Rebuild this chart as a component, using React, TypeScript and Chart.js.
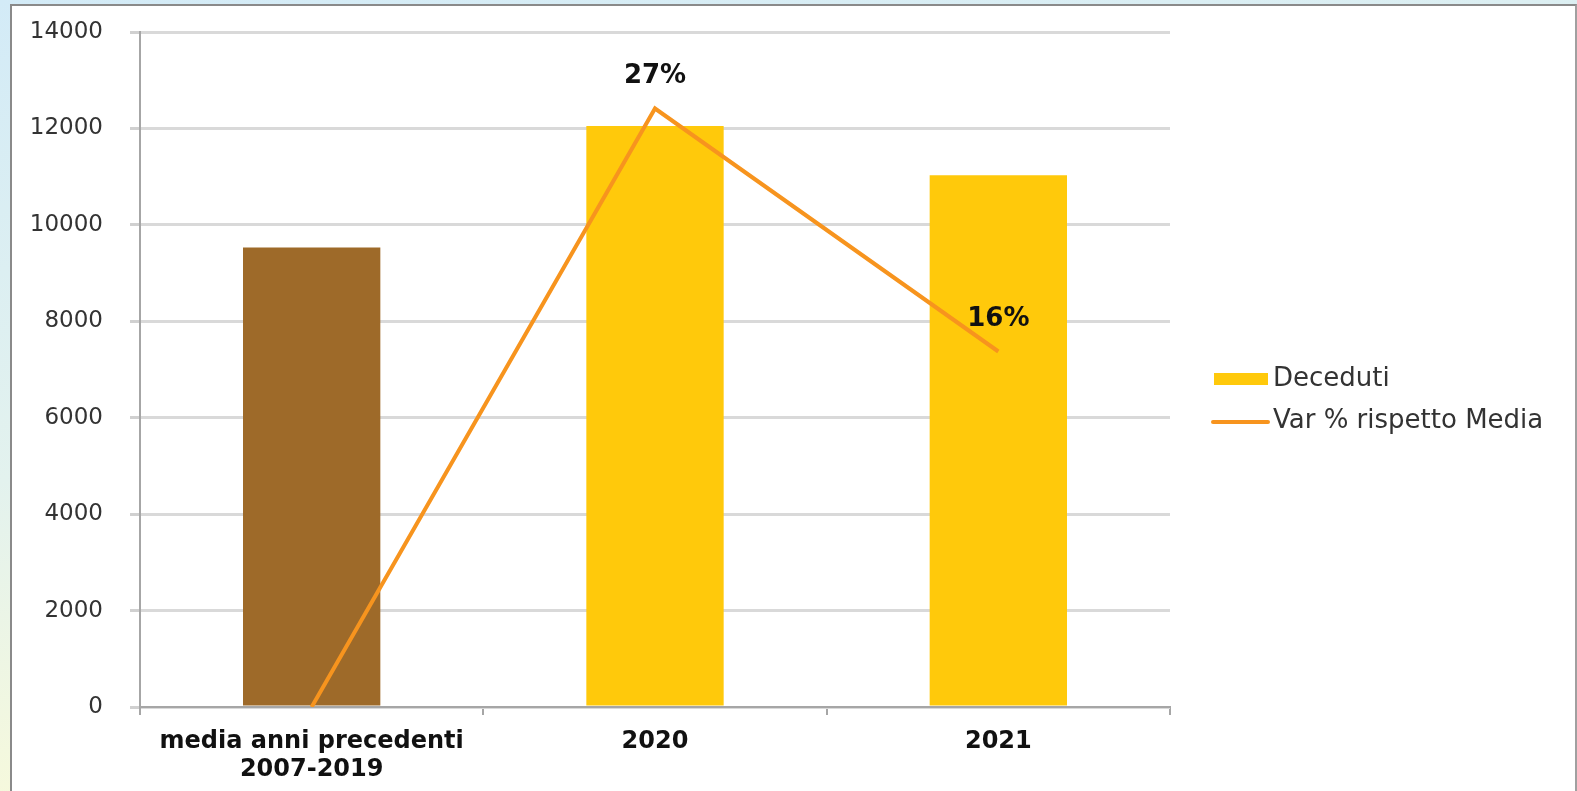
import React, { useEffect, useRef } from "react";
import { Chart, registerables } from "chart.js";

Chart.register(...registerables);

const categories: (string | string[])[] = [
  ["media anni precedenti", "2007-2019"],
  "2020",
  "2021",
];
const deceduti = [9530, 12050, 11030];
const barColors = ["#9E6A29", "#FFC90B", "#FFC90B"];
const varPct = [0, 26.6, 15.8];
const yTicks = [0, 2000, 4000, 6000, 8000, 10000, 12000, 14000];

const W = 1577;
const H = 791;

const labelsPlugin = {
  id: "pctLabels",
  afterDatasetsDraw(chart: any) {
    const meta = chart.getDatasetMeta(1);
    const ctx = chart.ctx;
    ctx.save();
    ctx.font = "bold 26px 'DejaVu Sans'";
    ctx.fillStyle = "#111";
    ctx.textAlign = "center";
    ctx.textBaseline = "middle";
    meta.data.forEach((pt: any, i: number) => {
      const v = varPct[i];
      if (!v) return;
      ctx.fillText(Math.round(v) + "%", pt.x, pt.y - 32);
    });
    ctx.restore();
  },
};

const legendPlugin = {
  id: "customLegend",
  afterDraw(chart: any) {
    const ctx = chart.ctx;
    const ds = chart.data.datasets;
    ctx.save();
    ctx.font = "26px 'DejaVu Sans'";
    ctx.textBaseline = "middle";
    ctx.textAlign = "left";
    ctx.fillStyle = "#FFC90B";
    ctx.fillRect(1214, 373, 54, 12);
    ctx.fillStyle = "#333";
    ctx.fillText(ds[0].label, 1273, 379);
    ctx.strokeStyle = ds[1].borderColor;
    ctx.lineWidth = 4;
    ctx.lineCap = "round";
    ctx.beginPath();
    ctx.moveTo(1213, 422);
    ctx.lineTo(1268, 422);
    ctx.stroke();
    ctx.fillText(ds[1].label, 1273, 421);
    ctx.restore();
  },
};

export default function App() {
  const ref = useRef<HTMLCanvasElement>(null);
  useEffect(() => {
    if (!ref.current) return;
    const chart = new Chart(ref.current, {
      type: "bar",
      data: {
        labels: categories,
        datasets: [
          {
            type: "bar",
            label: "Deceduti",
            data: deceduti,
            backgroundColor: barColors,
            barPercentage: 0.4,
            categoryPercentage: 1,
            yAxisID: "y",
            order: 2,
          },
          {
            type: "line",
            label: "Var % rispetto Media",
            data: varPct,
            borderColor: "#F7941E",
            backgroundColor: "#F7941E",
            borderWidth: 4,
            pointRadius: 0,
            tension: 0,
            yAxisID: "y1",
            order: 1,
          } as any,
        ],
      },
      options: {
        responsive: false,
        animation: false,
        devicePixelRatio: 1,
        layout: { padding: { left: 0, top: 32, right: 407, bottom: 0 } },
        plugins: {
          legend: { display: false },
          tooltip: { enabled: false },
        },
        scales: {
          x: {
            offset: true,
            grid: {
              offset: true,
              drawOnChartArea: false,
              drawTicks: true,
              tickLength: 8,
              color: "#a6a6a6",
              lineWidth: 2,
            },
            border: { display: true, color: "#a6a6a6", width: 2 },
            ticks: {
              color: "#111",
              padding: 13,
              font: { family: "'DejaVu Sans'", size: 24, weight: "bold", lineHeight: 1.15 },
              maxRotation: 0,
            },
            afterFit(scale: any) {
              scale.height = 84;
            },
          },
          y: {
            min: 0,
            max: 14000,
            afterBuildTicks(scale: any) {
              scale.ticks = yTicks.map((v) => ({ value: v }));
            },
            grid: {
              color: "#d9d9d9",
              lineWidth: 3,
              tickLength: 10,
              tickColor: "#d0d0d0",
            },
            border: { display: true, color: "#a6a6a6", width: 2 },
            ticks: {
              color: "#333",
              padding: 27,
              font: { family: "'DejaVu Sans'", size: 23 },
              callback: (v: any) => String(v),
            },
            afterFit(scale: any) {
              scale.width = 140;
              scale.paddingTop = 0;
              scale.paddingBottom = 0;
            },
          },
          y1: {
            display: false,
            min: 0,
            max: 30,
            position: "right",
          },
        },
      },
      plugins: [labelsPlugin, legendPlugin],
    } as any);
    return () => chart.destroy();
  }, []);

  return (
    <div
      style={{
        position: "fixed",
        left: 0,
        top: 0,
        width: W,
        height: H,
        overflow: "hidden",
        background:
          "linear-gradient(170deg, #d3ebf7 0%, #e3f2ee 45%, #f6f9dc 75%, #fbfbd3 100%)",
      }}
    >
      <div
        style={{
          position: "absolute",
          left: 10,
          top: 4,
          width: W - 10 - 4,
          height: H,
          background: "#fff",
          borderLeft: "2px solid #8a8a8a",
          borderTop: "2px solid #8a8a8a",
          borderRight: "2px solid #a0a0a0",
        }}
      />
      <canvas
        ref={ref}
        width={W}
        height={H}
        style={{ position: "absolute", left: 0, top: 0, width: W, height: H }}
      />
    </div>
  );
}
